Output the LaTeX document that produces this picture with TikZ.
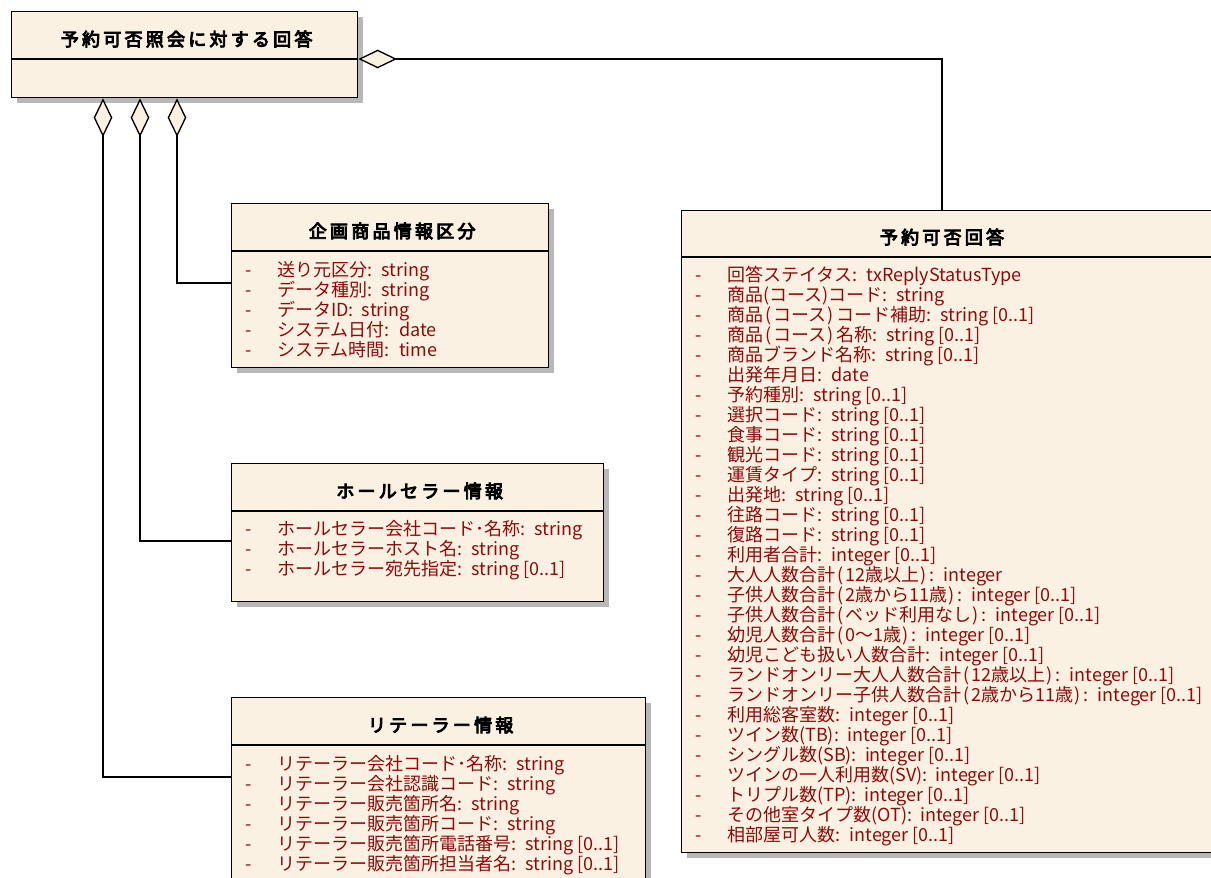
\documentclass[tikz,border=0pt]{standalone}
\usepackage{fontspec}
\setmainfont{Noto Sans CJK JP}
\newfontfamily\titlefont[LetterSpace=18,FakeBold=5]{Noto Sans CJK JP}
\usepackage{xcolor}
\usetikzlibrary{arrows.meta,positioning,calc,shadows}

\definecolor{classfill}{RGB}{251,241,226}
\definecolor{attrred}{RGB}{140,12,12}
% narrow brackets as in the model tool
\newcommand\jpl{\kern2pt(\kern1pt}
\newcommand\jpr{\kern1pt)\kern2pt}

\tikzset{
  classbox/.style={draw, line width=1pt, fill=classfill, anchor=north west, inner sep=0pt,
    drop shadow={shadow xshift=4pt, shadow yshift=-4pt, fill=black!28, opacity=1}},
  classname/.style={inner sep=0pt, font=\titlefont\fontsize{13.5pt}{15pt}\selectfont},
  attr/.style={anchor=base west, inner sep=0pt, text=attrred,
    font=\fontsize{13.5pt}{15pt}\selectfont},
  aggr/.style={line width=1pt, arrows={Diamond[fill=classfill,length=29pt,width=14pt]-}},
}

\begin{document}
\begin{tikzpicture}[x=0.75pt,y=-0.75pt]
  \clip (0,0) rectangle (1211,878);
  \fill[white] (0,0) rectangle (1211,878);

  % classes
  \node[classbox, minimum width=259.5pt, minimum height=64.5pt] (shokai) at (11,11) {};
  \node[classbox, minimum width=237.75pt, minimum height=123pt] (kikaku) at (231,203) {};
  \node[classbox, minimum width=279pt, minimum height=103.5pt] (whole) at (231,463) {};
  \node[classbox, minimum width=310.5pt, minimum height=150pt] (retailer) at (231,697) {};
  \node[classbox, minimum width=408.75pt, minimum height=481.5pt] (kaito) at (681,210) {};

  % name compartments
  \foreach \c in {shokai,kikaku,whole,retailer}
    \draw[line width=1pt] ($(\c.north west)+(0,48)$) -- ($(\c.north east)+(0,48)$);
  \draw[line width=1pt] ($(kaito.north west)+(0,47)$) -- ($(kaito.north east)+(0,47)$);

  \node[classname] (shokai-name) at ($(shokai.north)+(2,28)$) {予約可否照会に対する回答};
  \node[classname] (kikaku-name) at ($(kikaku.north)+(2,28)$) {企画商品情報区分};
  \node[classname] (whole-name) at ($(whole.north)+(2,28)$) {ホールセラー情報};
  \node[classname] (retailer-name) at ($(retailer.north)+(2,28)$) {リテーラー情報};
  \node[classname] (kaito-name) at ($(kaito.north west)+(261,27)$) {予約可否回答};

  % attributes
  \foreach \n/\t [count=\i] in {{送り元区分}/{string},{データ種別}/{string},{データID}/{string},
      {システム日付}/{date},{システム時間}/{time}}
    \node[attr] (kikaku-a\i) at ($(kikaku.north west)+(14,53+20*\i)$)
      {\makebox[24pt][l]{-}\n:\hspace{3pt} \t};

  \foreach \n/\t [count=\i] in {{ホールセラー会社コード･名称}/{string},{ホールセラーホスト名}/{string},
      {ホールセラー宛先指定}/{string [0..1]}}
    \node[attr] (whole-a\i) at ($(whole.north west)+(14,52+20*\i)$)
      {\makebox[24pt][l]{-}\n:\hspace{3pt} \t};

  \foreach \n/\t [count=\i] in {{リテーラー会社コード･名称}/{string},{リテーラー会社認識コード}/{string},
      {リテーラー販売箇所名}/{string},{リテーラー販売箇所コード}/{string},
      {リテーラー販売箇所電話番号}/{string [0..1]},{リテーラー販売箇所担当者名}/{string [0..1]}}
    \node[attr] (retailer-a\i) at ($(retailer.north west)+(14,53+20*\i)$)
      {\makebox[24pt][l]{-}\n:\hspace{3pt} \t};

  \foreach \n/\t [count=\i] in {{回答ステイタス}/{txReplyStatusType},{商品(コース)コード}/{string},
      {商品\jpl コース\jpr コード補助}/{string [0..1]},{商品\jpl コース\jpr 名称}/{string [0..1]},
      {商品ブランド名称}/{string [0..1]},{出発年月日}/{date},{予約種別}/{string [0..1]},
      {選択コード}/{string [0..1]},{食事コード}/{string [0..1]},{観光コード}/{string [0..1]},
      {運賃タイプ}/{string [0..1]},{出発地}/{string [0..1]},{往路コード}/{string [0..1]},
      {復路コード}/{string [0..1]},{利用者合計}/{integer [0..1]},
      {大人人数合計\jpl 12歳以上\jpr}/{integer},
      {子供人数合計\jpl 2歳から11歳\jpr}/{integer [0..1]},
      {子供人数合計\jpl ベッド利用なし\jpr}/{integer [0..1]},
      {幼児人数合計\jpl 0～1歳\jpr}/{integer [0..1]},
      {幼児こども扱い人数合計}/{integer [0..1]},
      {ランドオンリー大人人数合計\jpl 12歳以上\jpr}/{integer [0..1]},
      {ランドオンリー子供人数合計\jpl 2歳から11歳\jpr}/{integer [0..1]},
      {利用総客室数}/{integer [0..1]},{ツイン数(TB)}/{integer [0..1]},
      {シングル数(SB)}/{integer [0..1]},{ツインの一人利用数(SV)}/{integer [0..1]},
      {トリプル数(TP)}/{integer [0..1]},{その他室タイプ数(OT)}/{integer [0..1]},
      {相部屋可人数}/{integer [0..1]}}
    \node[attr] (kaito-a\i) at ($(kaito.north west)+(14,51+20*\i)$)
      {\makebox[24pt][l]{-}\n:\hspace{3pt} \t};

  % aggregations
  \draw[aggr] ($(shokai.south west)+(166,0)$) |- ($(kikaku.north west)+(0,80)$);
  \draw[aggr] ($(shokai.south west)+(129,0)$) |- ($(whole.north west)+(0,78)$);
  \draw[aggr] ($(shokai.south west)+(92,0)$) |- ($(retailer.north west)+(0,80)$);
  \draw[aggr] ($(shokai.north east)+(0,48)$) -| ($(kaito.north west)+(261,0)$);
\end{tikzpicture}
\end{document}
